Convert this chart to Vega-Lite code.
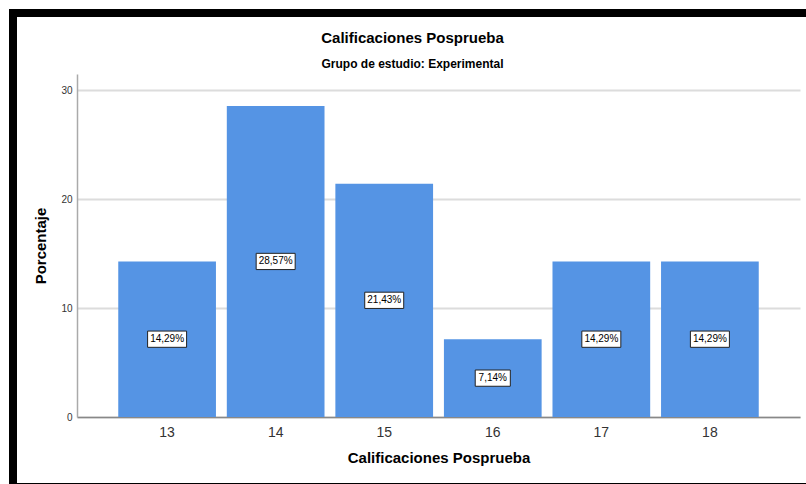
{
  "$schema": "https://vega.github.io/schema/vega-lite/v6.json",
  "width": 799,
  "height": 474,
  "autosize": {"type": "none"},
  "padding": {"left": 13, "top": 13, "right": -6, "bottom": -3},
  "background": "white",
  "config": {
    "font": "Liberation Sans",
    "view": {"fill": "white", "stroke": "black", "strokeWidth": 8}
  },
  "title": {
    "text": "Calificaciones Posprueba",
    "subtitle": "Grupo de estudio: Experimental",
    "fontSize": 15,
    "fontWeight": "bold",
    "color": "black",
    "subtitleFontSize": 12,
    "subtitleFontWeight": "bold",
    "subtitleColor": "black",
    "subtitlePadding": 13,
    "anchor": "middle",
    "frame": "group",
    "offset": -57
  },
  "data": {
    "values": [
      {"nota": "13", "pct": 14.29, "label": "14,29%"},
      {"nota": "14", "pct": 28.57, "label": "28,57%"},
      {"nota": "15", "pct": 21.43, "label": "21,43%"},
      {"nota": "16", "pct": 7.14, "label": "7,14%"},
      {"nota": "17", "pct": 14.29, "label": "14,29%"},
      {"nota": "18", "pct": 14.29, "label": "14,29%"}
    ]
  },
  "layer": [
    {
      "mark": {"type": "bar", "color": "#5594e4"},
      "encoding": {
        "x": {
          "field": "nota",
          "type": "ordinal",
          "scale": {"range": [64, 787], "paddingInner": 0.1, "paddingOuter": 0.38},
          "axis": {
            "title": "Calificaciones Posprueba",
            "offset": -70,
            "labelAngle": 0,
            "ticks": false,
            "domainColor": "#888888",
            "domainWidth": 1.5,
            "labelFontSize": 14,
            "labelColor": "#333333",
            "labelPadding": 8,
            "titleFontSize": 15,
            "titleFontWeight": "bold",
            "titleColor": "black",
            "titlePadding": 11
          }
        },
        "y": {
          "field": "pct",
          "type": "quantitative",
          "scale": {"domain": [0, 31.5], "range": [404, 61], "nice": false},
          "axis": {
            "title": "Porcentaje",
            "offset": -64,
            "values": [0, 10, 20, 30],
            "grid": true,
            "gridColor": "#dcdcdc",
            "gridWidth": 2,
            "domainColor": "#aaaaaa",
            "domainWidth": 1.5,
            "ticks": false,
            "labelFontSize": 10,
            "labelColor": "#333333",
            "labelPadding": 5,
            "titleFontSize": 15,
            "titleFontWeight": "bold",
            "titleColor": "black",
            "titlePadding": 12
          }
        }
      }
    },
    {
      "mark": {"type": "point", "filled": true, "fill": "white", "stroke": "#222222", "strokeWidth": 1, "opacity": 1, "size": 1056},
      "encoding": {
        "x": {"field": "nota", "type": "ordinal"},
        "y": {"field": "pct", "type": "quantitative", "scale": {"domain": [0, 63], "range": [404, 61], "nice": false}, "axis": null},
        "shape": {
          "condition": {"test": "datum.pct < 10", "value": "M-1.08,-0.5H1.08V0.5H-1.08Z"},
          "value": "M-1.2,-0.5H1.2V0.5H-1.2Z"
        }
      }
    },
    {
      "mark": {"type": "text", "fontSize": 10, "color": "black", "baseline": "middle", "align": "center"},
      "encoding": {
        "x": {"field": "nota", "type": "ordinal"},
        "y": {"field": "pct", "type": "quantitative", "scale": {"domain": [0, 63], "range": [404, 61], "nice": false}, "axis": null},
        "text": {"field": "label"}
      }
    }
  ],
  "resolve": {"scale": {"y": "independent"}}
}
